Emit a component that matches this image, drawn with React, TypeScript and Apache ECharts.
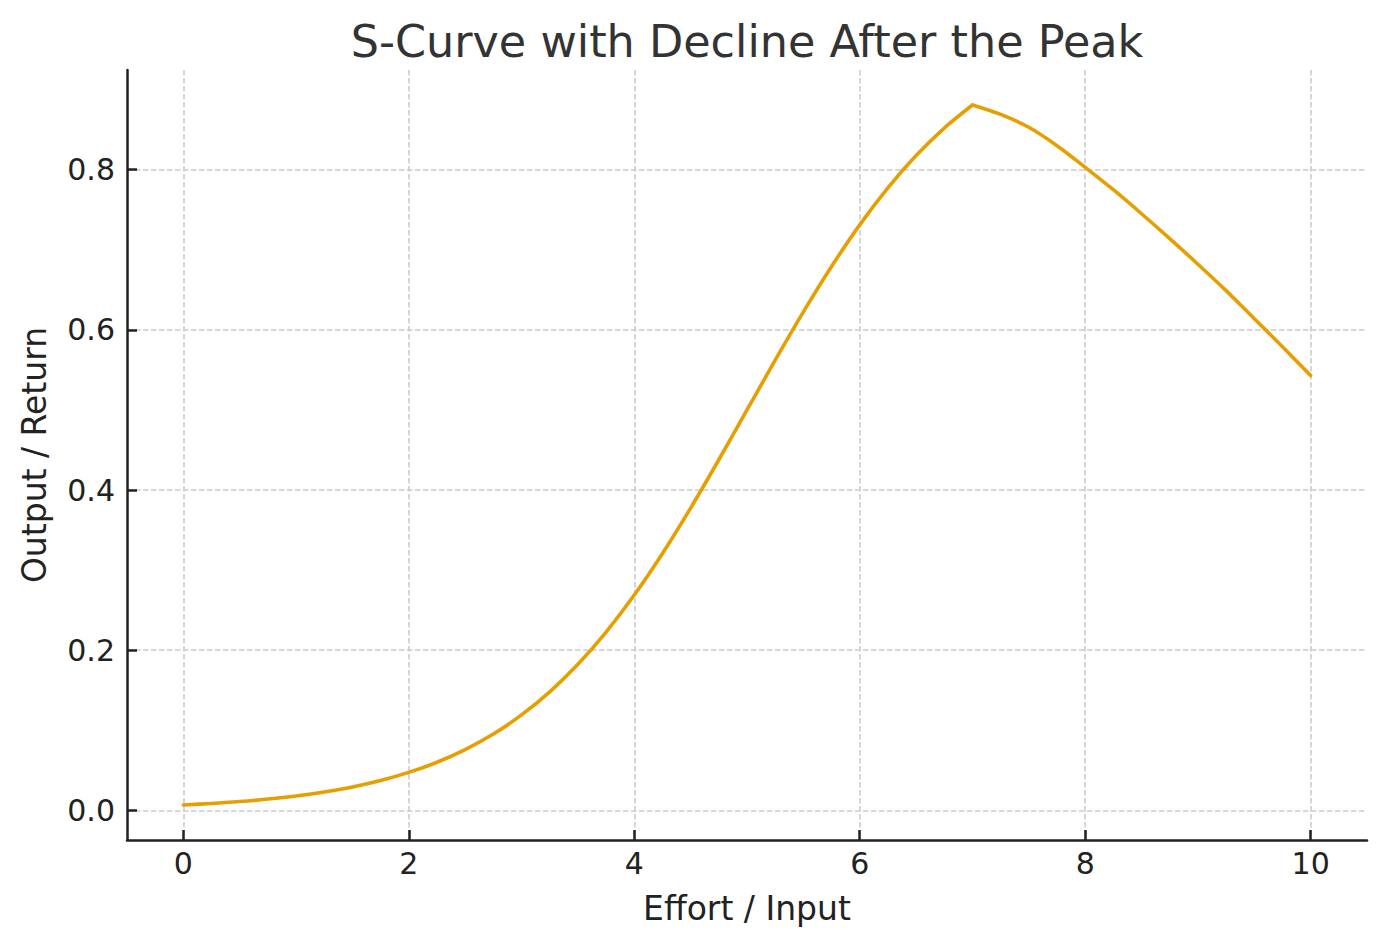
import React, { useEffect, useRef } from "react";
import * as echarts from "echarts";

const riseX = [
  0, 0.25, 0.5, 0.75, 1, 1.25, 1.5, 1.75, 2, 2.25, 2.5, 2.75, 3, 3.25, 3.5, 3.75, 4,
  4.25, 4.5, 4.75, 5, 5.25, 5.5, 5.75, 6, 6.25, 6.5, 6.75, 7,
];
const riseY = [
  0.0067, 0.0086, 0.011, 0.0141, 0.018, 0.023, 0.0293, 0.0373, 0.0474, 0.0601, 0.0759,
  0.0953, 0.1192, 0.148, 0.1824, 0.2227, 0.2689, 0.3208, 0.3775, 0.4378, 0.5, 0.5622,
  0.6225, 0.6792, 0.7311, 0.7773, 0.8176, 0.852, 0.8808,
];
const fallX = [7, 7.25, 7.5, 7.75, 8, 8.25, 8.5, 8.75, 9, 9.25, 9.5, 9.75, 10];
const fallY = [0.8808, 0.869, 0.853, 0.83, 0.803, 0.775, 0.745, 0.714, 0.682, 0.649, 0.614, 0.579, 0.543];
const xTicks = [0, 2, 4, 6, 8, 10];
const yTicks = [0, 0.2, 0.4, 0.6, 0.8];

const TITLE = "S-Curve with Decline After the Peak";
const X_NAME = "Effort / Input";
const Y_NAME = "Output / Return";

const FONT = "DejaVu Sans";
const LINE_COLOR = "#E69F00";

export default function App() {
  const ref = useRef<HTMLDivElement>(null);
  useEffect(() => {
    document.body.style.margin = "0";
    if (!ref.current) return;
    const chart = echarts.init(ref.current, undefined, { renderer: "svg" });
    const gridLine = { show: true, lineStyle: { color: "#cccccc", width: 1.6, type: [5.5, 2.5] as any } };
    const lineSeries = (xs: number[], ys: number[]) => ({
      type: "line",
      data: xs.map((x, i) => [x, ys[i]]),
      showSymbol: false,
      symbol: "none",
      smooth: 0.3,
      lineStyle: { color: LINE_COLOR, width: 3.6, cap: "round", join: "round" },
    });
    chart.setOption({
      animation: false,
      backgroundColor: "#ffffff",
      title: {
        text: TITLE,
        left: 742,
        textAlign: "center",
        top: 14,
        textStyle: { fontFamily: FONT, fontSize: 44.5, fontWeight: "normal", color: "#333333" },
      },
      grid: { left: 127, right: 20, top: 70, bottom: 107 },
      xAxis: {
        type: "value",
        min: -0.5,
        max: 10.5,
        name: X_NAME,
        nameLocation: "middle",
        nameGap: 52,
        nameTextStyle: { fontFamily: FONT, fontSize: 33, color: "#222222" },
        axisLine: { show: true, onZero: false, lineStyle: { color: "#222222", width: 2.5 } },
        axisTick: { show: true, inside: true, length: 10, lineStyle: { color: "#222222", width: 2.5 }, customValues: xTicks },
        axisLabel: { fontFamily: FONT, fontSize: 30, color: "#222222", margin: 8, customValues: xTicks },
        splitLine: gridLine,
      },
      yAxis: {
        type: "value",
        min: -0.037,
        max: 0.9245,
        name: Y_NAME,
        nameLocation: "middle",
        nameGap: 76,
        nameRotate: 90,
        nameTextStyle: { fontFamily: FONT, fontSize: 33, color: "#222222" },
        axisLine: { show: true, onZero: false, lineStyle: { color: "#222222", width: 2.5 } },
        axisTick: { show: true, inside: true, length: 10, lineStyle: { color: "#222222", width: 2.5 }, customValues: yTicks },
        axisLabel: {
          fontFamily: FONT,
          fontSize: 30,
          color: "#222222",
          margin: 12,
          customValues: yTicks,
          formatter: (v: number) => v.toFixed(1),
        },
        splitLine: gridLine,
      },
      series: [lineSeries(riseX, riseY), lineSeries(fallX, fallY)],
    });
    return () => chart.dispose();
  }, []);
  return <div ref={ref} style={{ width: 1387, height: 947 }} />;
}
